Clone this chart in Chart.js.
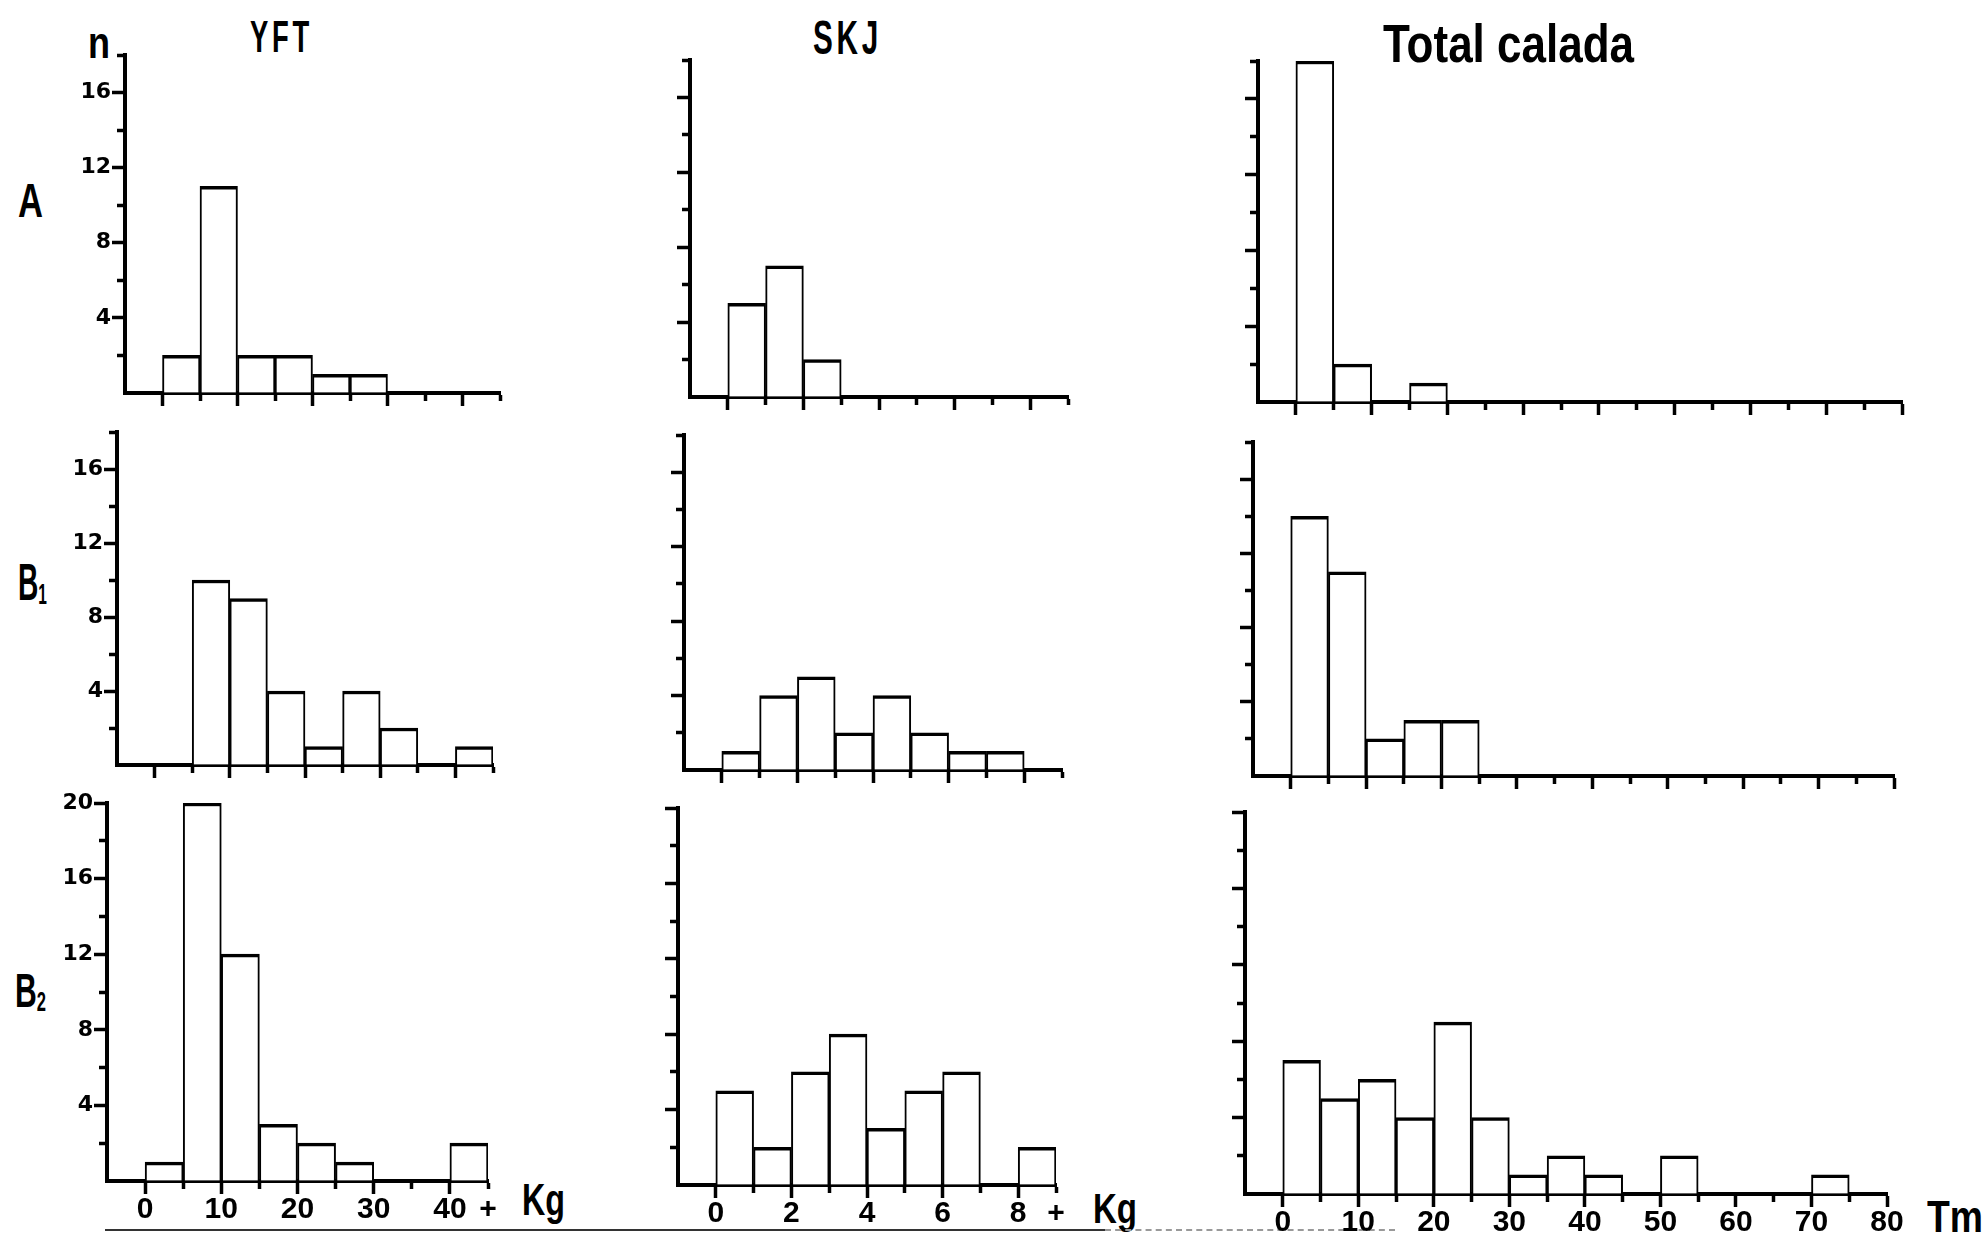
<!DOCTYPE html>
<html>
<head>
<meta charset="utf-8">
<script src="https://cdn.jsdelivr.net/npm/chart.js@4/dist/chart.umd.min.js"></script>
<style>
  body { margin: 0; background: #fff; width: 1986px; height: 1238px; position: relative; overflow: hidden; }
  .panel { position: absolute; }
  .lbl { position: absolute; font-family: "Liberation Sans Narrow", "Liberation Sans", sans-serif; font-weight: bold;
         color: #000; line-height: 1; white-space: nowrap; transform-origin: left top; }
  .lbl sub { font-size: 0.55em; vertical-align: -0.15em; }
  #rule { position: absolute; left: 105px; top: 1229px; width: 1000px; height: 2px; background: #333; }
  #rule2 { position: absolute; left: 1105px; top: 1229px; width: 290px; height: 0; border-top: 2px dashed #999; }
</style>
</head>
<body>

<div class="lbl" style="left:88px;top:21px;font-size:44px" data-w="22">n</div>
<div class="lbl" style="left:250px;top:15px;font-size:44px;letter-spacing:6px" data-w="63">YFT</div>
<div class="lbl" style="left:813px;top:14px;font-size:48px;letter-spacing:6px" data-w="69">SKJ</div>
<div class="lbl" style="left:1383px;top:17px;font-size:53px" data-w="251">Total calada</div>
<div class="lbl" style="left:18px;top:176px;font-size:49px" data-w="25">A</div>
<div class="lbl" style="left:18px;top:556px;font-size:52px" data-w="29">B<sub>1</sub></div>
<div class="lbl" style="left:15px;top:966px;font-size:49px" data-w="31">B<sub>2</sub></div>
<div class="lbl" style="left:522px;top:1178px;font-size:44px" data-w="43">Kg</div>
<div class="lbl" style="left:1093px;top:1188px;font-size:42px" data-w="44">Kg</div>
<div class="lbl" style="left:1927px;top:1195px;font-size:44px" data-w="56">Tm</div>
<div id="rule"></div>
<div id="rule2"></div>

<script>
// bin lower edges and counts (n) per bin
const yftEdges = [0, 5, 10, 15, 20, 25, 30, 35, 40];
const yftA  = [2, 11, 2, 2, 1, 1, 0, 0, 0];
const yftB1 = [0, 10, 9, 4, 1, 4, 2, 0, 1];
const yftB2 = [1, 20, 12, 3, 2, 1, 0, 0, 2];

const skjEdges = [0, 1, 2, 3, 4, 5, 6, 7, 8];
const skjA  = [5, 7, 2, 0, 0, 0, 0, 0, 0];
const skjB1 = [1, 4, 5, 2, 4, 2, 1, 1, 0];
const skjB2 = [5, 2, 6, 8, 3, 5, 6, 0, 2];

const totEdges = [0, 5, 10, 15, 20, 25, 30, 35, 40, 45, 50, 55, 60, 65, 70, 75];
const totA  = [18, 2, 0, 1, 0, 0, 0, 0, 0, 0, 0, 0, 0, 0, 0, 0];
const totB1 = [14, 11, 2, 3, 3, 0, 0, 0, 0, 0, 0, 0, 0, 0, 0, 0];
const totB2 = [7, 5, 6, 4, 9, 4, 1, 2, 1, 0, 2, 0, 0, 0, 1, 0];

// tick labels
const yftXTicks = [0, 10, 20, 30, 40, 45];
const yftXLabels = ['0', '10', '20', '30', '40', '+'];
const skjXTicks = [0, 2, 4, 6, 8, 9];
const skjXLabels = ['0', '2', '4', '6', '8', '+'];
const totXTicks = [0, 10, 20, 30, 40, 50, 60, 70, 80];
const totXLabels = ['0', '10', '20', '30', '40', '50', '60', '70', '80'];
const yLabelTicks = [4, 8, 12, 16, 20];

// axis settings per column
const columns = {
  yft: { edges: yftEdges, width: 5, min: -5, max: 45, major: 10, xt: yftXTicks, xl: yftXLabels, yLabels: true },
  skj: { edges: skjEdges, width: 1, min: -1, max: 9, major: 2, xt: skjXTicks, xl: skjXLabels, yLabels: false },
  tot: { edges: totEdges, width: 5, min: -5, max: 80, major: 10, xt: totXTicks, xl: totXLabels, yLabels: false }
};

// pixel placement of each panel: y-axis x, axis top, zero line, x-axis end
const LW = 60, PT = 16, PR = 24;
const panels = [
  { col: 'yft', counts: yftA,  ymax: 18, bottom: false, ax: 125,  top: 55,  zero: 393,  end: 500 },
  { col: 'yft', counts: yftB1, ymax: 18, bottom: false, ax: 117,  top: 432, zero: 765,  end: 493 },
  { col: 'yft', counts: yftB2, ymax: 20, bottom: true,  ax: 107,  top: 803, zero: 1181, end: 488 },
  { col: 'skj', counts: skjA,  ymax: 18, bottom: false, ax: 690,  top: 60,  zero: 397,  end: 1068 },
  { col: 'skj', counts: skjB1, ymax: 18, bottom: false, ax: 684,  top: 435, zero: 770,  end: 1062 },
  { col: 'skj', counts: skjB2, ymax: 20, bottom: true,  ax: 678,  top: 808, zero: 1185, end: 1056 },
  { col: 'tot', counts: totA,  ymax: 18, bottom: false, ax: 1258, top: 61,  zero: 402,  end: 1902 },
  { col: 'tot', counts: totB1, ymax: 18, bottom: false, ax: 1253, top: 442, zero: 776,  end: 1894 },
  { col: 'tot', counts: totB2, ymax: 20, bottom: true,  ax: 1245, top: 812, zero: 1194, end: 1887 }
];

function isMult(v, m) {
  return Math.abs(v / m - Math.round(v / m)) < 1e-6;
}

function makePanel(p) {
  const c = columns[p.col];
  const BH = p.bottom ? 60 : 24;
  const div = document.createElement('div');
  div.className = 'panel';
  const w = p.end - p.ax + LW + PR;
  const h = p.zero - p.top + PT + BH;
  div.style.left = (p.ax - LW) + 'px';
  div.style.top = (p.top - PT) + 'px';
  const canvas = document.createElement('canvas');
  canvas.width = w;
  canvas.height = h;
  div.appendChild(canvas);
  document.body.appendChild(div);

  const data = c.edges.map((e, i) => ({ x: e + c.width / 2, y: p.counts[i] }));

  new Chart(canvas.getContext('2d'), {
    type: 'bar',
    data: {
      datasets: [{
        data: data,
        backgroundColor: '#fff',
        borderColor: '#000',
        borderWidth: { top: 3.5, left: 2, right: 2, bottom: 0 },
        borderSkipped: 'start',
        barPercentage: 1,
        categoryPercentage: 1
      }]
    },
    options: {
      responsive: false,
      animation: false,
      layout: { padding: { top: PT, right: PR, left: 0, bottom: 0 } },
      plugins: { legend: { display: false }, tooltip: { enabled: false } },
      scales: {
        x: {
          type: 'linear',
          min: c.min,
          max: c.max,
          offset: false,
          border: { display: true, color: '#000', width: 4 },
          grid: {
            offset: false,
            drawOnChartArea: false,
            tickLength: 13,
            tickWidth: 3.5,
            tickColor: ctx => (ctx.tick && ctx.tick.value === c.min) ? 'rgba(0,0,0,0)' : '#000',
            tickBorderDash: ctx => (ctx.tick && isMult(ctx.tick.value, c.major)) ? [] : [6, 100]
          },
          ticks: {
            stepSize: c.width,
            maxTicksLimit: 100,
            autoSkip: false,
            maxRotation: 0,
            padding: -2,
            color: '#000',
            font: { family: 'Liberation Sans, sans-serif', weight: 'bold', size: 30 },
            callback: v => {
              if (!p.bottom) return '';
              const i = c.xt.findIndex(t => Math.abs(t - v) < 1e-6);
              return i >= 0 ? c.xl[i] : '';
            }
          },
          afterFit: s => { s.height = BH; }
        },
        y: {
          type: 'linear',
          min: 0,
          max: p.ymax,
          border: { display: true, color: '#000', width: 4 },
          grid: {
            drawOnChartArea: false,
            tickLength: 13,
            tickWidth: 3.5,
            tickColor: ctx => (ctx.tick && ctx.tick.value === 0) ? 'rgba(0,0,0,0)' : '#000',
            tickBorderDash: ctx => (ctx.tick && isMult(ctx.tick.value, 4)) ? [] : [0, 5, 6, 100]
          },
          ticks: {
            stepSize: 2,
            autoSkip: false,
            padding: 1,
            color: '#000',
            font: { family: 'DejaVu Sans, sans-serif', weight: 'bold', size: 22 },
            callback: v => (c.yLabels && yLabelTicks.includes(v)) ? String(v) : ''
          },
          afterFit: s => { s.width = LW; }
        }
      }
    }
  });
}

panels.forEach(makePanel);

// squeeze the condensed hand-lettered labels to their widths
document.querySelectorAll('.lbl').forEach(el => {
  const target = parseFloat(el.dataset.w);
  const cur = el.getBoundingClientRect().width;
  if (cur > 0) el.style.transform = 'scaleX(' + (target / cur) + ')';
});
</script>
</body>
</html>
